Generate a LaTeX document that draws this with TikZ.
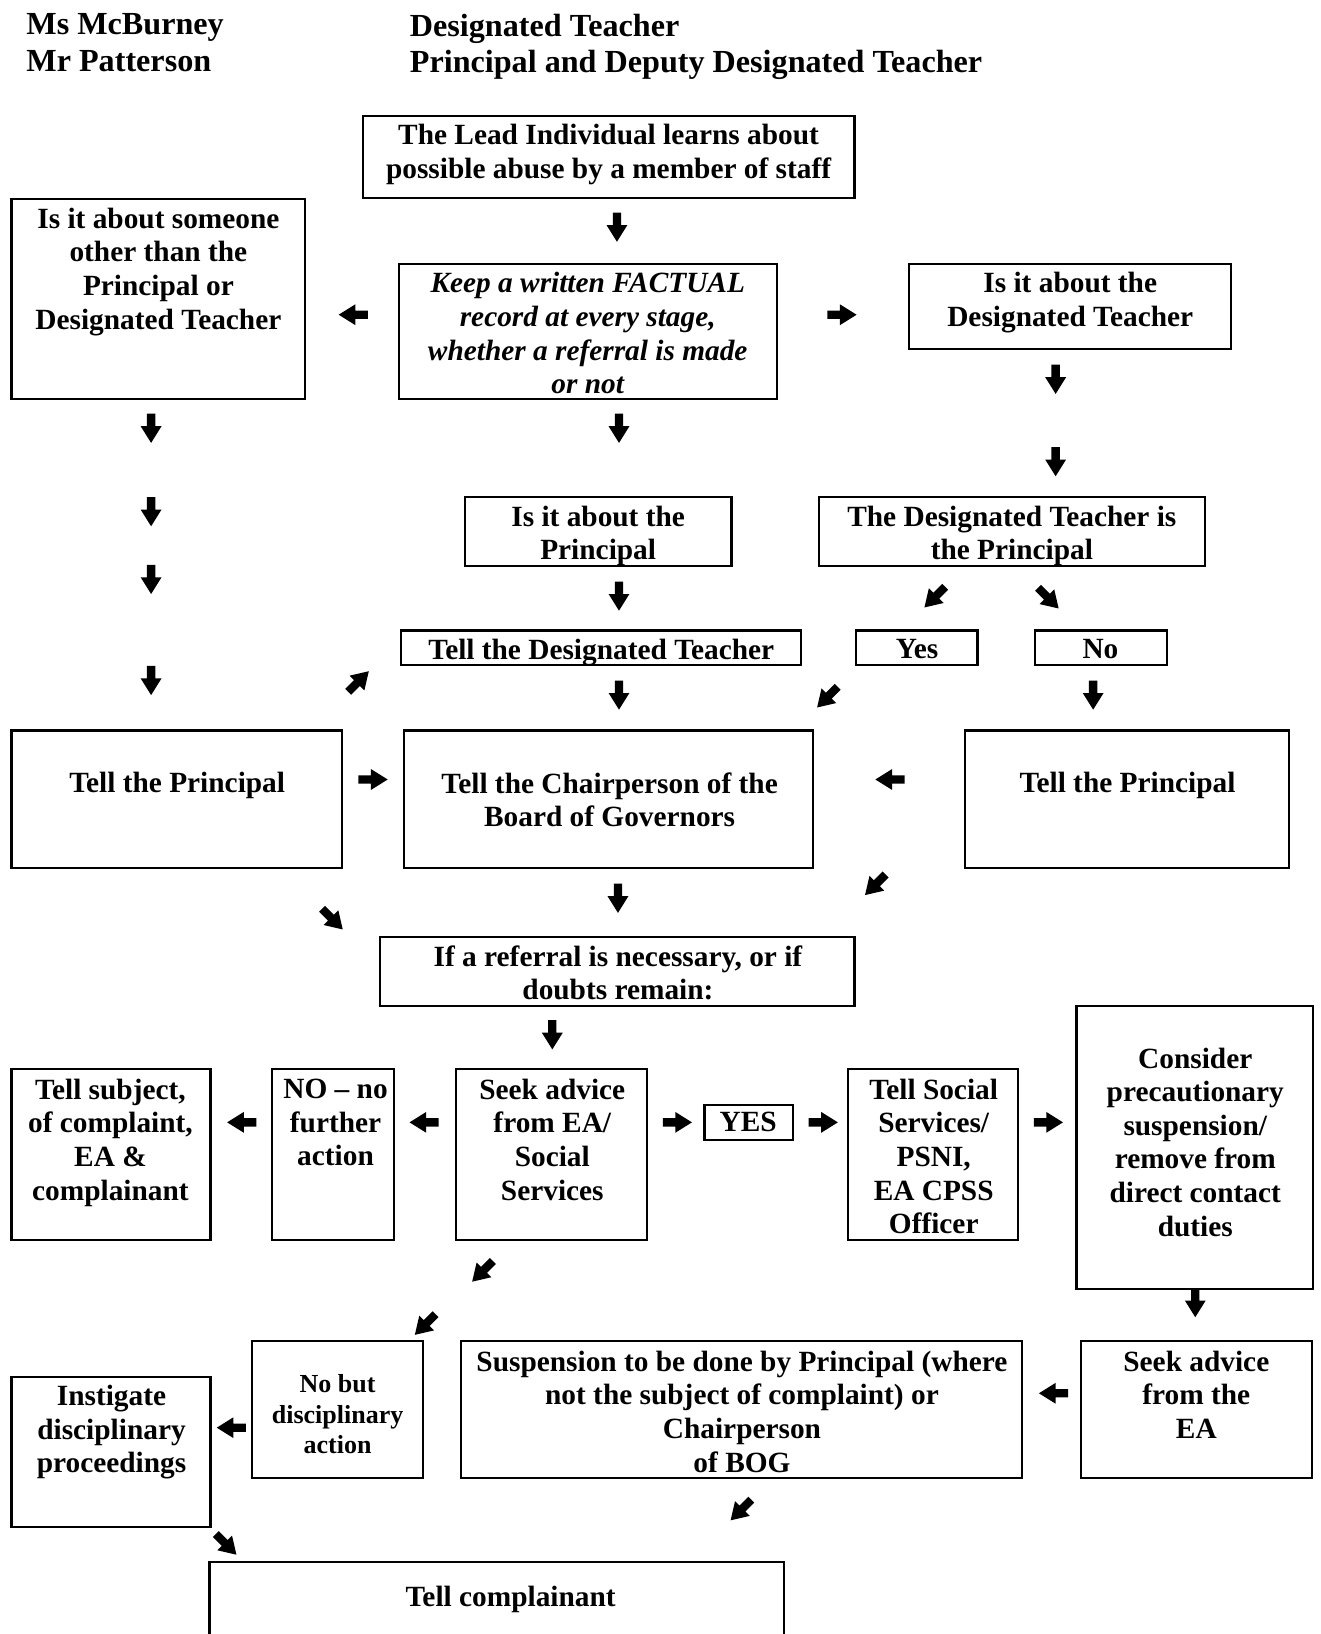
\documentclass[tikz,border=0pt]{standalone}
\usepackage{fontspec}
\setmainfont{Liberation Serif}
\usetikzlibrary{fit}

\begin{document}
\begin{tikzpicture}[x=0.020837cm, y=-0.020837cm,
  box/.style={draw, line width=1.2pt, inner sep=0pt},
  txt/.style={anchor=north, align=center, inner sep=0pt,
              font=\fontsize{16.7}{19.15}\selectfont\bfseries},
  small/.style={txt, font=\fontsize{14.8}{17.2}\selectfont\bfseries},
  hdr/.style={anchor=north west, align=left, inner sep=0pt,
              font=\fontsize{18.3}{20.75}\selectfont\bfseries},
  garrow/.pic={\fill (-4,-14) -- (4,-14) -- (4,-2) -- (10,-2) -- (0,14)
                 -- (-10,-2) -- (-4,-2) -- cycle;},
]
\useasboundingbox (0,0) rectangle (1267,1568);

% header
\node[hdr] (names) at (25,13) {Ms McBurney\\Mr Patterson};
\node[hdr] (roles) at (393,13) {Designated Teacher\\Principal and Deputy Designated Teacher};

% boxes
\node[box, fit={(348,111) (820,190)}] (lead) {};
\node[box, fit={(11,191) (293,383)}] (other) {};
\node[box, fit={(383,253) (746,383)}] (record) {};
\node[box, fit={(872,253) (1181,335)}] (isdt) {};
\node[box, fit={(446,477) (702,543)}] (ispr) {};
\node[box, fit={(786,477) (1156,543)}] (dtpr) {};
\node[box, fit={(385,605) (769,638)}] (telldt) {};
\node[box, fit={(821,605) (938,638)}] (yes) {};
\node[box, fit={(993,605) (1120,638)}] (no) {};
\node[box, fit={(11,701) (328,833)}] (prleft) {};
\node[box, fit={(388,701) (780,833)}] (chair) {};
\node[box, fit={(926,701) (1237,833)}] (prright) {};
\node[box, fit={(365,899) (820,965)}] (referral) {};
\node[box, fit={(11,1026) (202,1190)}] (subject) {};
\node[box, fit={(261,1026) (378,1190)}] (noaction) {};
\node[box, fit={(438,1026) (621,1190)}] (advice) {};
\node[box, fit={(676,1060) (761,1094)}] (yesbig) {};
\node[box, fit={(814,1026) (977,1190)}] (social) {};
\node[box, fit={(1033,965) (1260,1237)}] (consider) {};
\node[box, fit={(1037,1287) (1259,1418)}] (adviceea) {};
\node[box, fit={(442,1287) (981,1418)}] (suspend) {};
\node[box, fit={(242,1287) (406,1418)}] (nobut) {};
\node[box, fit={(11,1321) (202,1465)}] (instigate) {};
\node[box, fit={(201,1499) (752,1590)}] (complainant) {};

% texts
\node[txt] (leadT) at (584,119) {The Lead Individual learns about\\possible abuse by a member of staff};
\node[txt] (otherT) at (152,199) {Is it about someone\\other than the\\Principal or\\Designated Teacher};
\node[txt, font=\fontsize{16.7}{19.15}\selectfont\bfseries\itshape] (recordT) at (564,261)
  {Keep a written FACTUAL\\record at every stage,\\whether a referral is made\\or not};
\node[txt] (isdtT) at (1027,261) {Is it about the\\Designated Teacher};
\node[txt] (isprT) at (574,485) {Is it about the\\Principal};
\node[txt] (dtprT) at (971,485) {The Designated Teacher is\\the Principal};
\node[txt] (telldtT) at (577,613) {Tell the Designated Teacher};
\node[txt] (yesT) at (880,613) {Yes};
\node[txt] (noT) at (1056,613) {No};
\node[txt] (prleftT) at (170,741) {Tell the Principal};
\node[txt] (chairT) at (585,741) {Tell the Chairperson of the\\Board of Governors};
\node[txt] (prrightT) at (1082,741) {Tell the Principal};
\node[txt] (referralT) at (593,907) {If a referral is necessary, or if\\doubts remain:};
\node[txt] (subjectT) at (106,1035) {Tell subject,\\of complaint,\\EA \&\\complainant};
\node[txt] (noactionT) at (322,1035) {NO -- no\\further\\action};
\node[txt] (adviceT) at (530,1035) {Seek advice\\from EA/\\Social\\Services};
\node[txt] (yesbigT) at (718,1067) {YES};
\node[txt] (socialT) at (896,1035) {Tell Social\\Services/\\PSNI,\\EA CPSS\\Officer};
\node[txt] (considerT) at (1147,1005) {Consider\\precautionary\\suspension/\\remove from\\direct contact\\duties};
\node[txt] (adviceeaT) at (1148,1296) {Seek advice\\from the\\EA};
\node[txt] (suspendT) at (712,1296) {Suspension to be done by Principal (where\\not the subject of complaint) or\\Chairperson\\of BOG};
\node[small] (nobutT) at (324,1319) {No but\\disciplinary\\action};
\node[txt] (instigateT) at (107,1329) {Instigate\\disciplinary\\proceedings};
\node[txt] (complainantT) at (490,1522) {Tell complainant};

% arrow glyphs
\foreach \p in {(592,218),(145,411),(594,411),(1013,364),(1013,443),(145,491),
                (145,556),(594,572),(145,653),(594,667),(1049,667),(593,862),
                (530,993),(1147,1250)}
  \pic at \p {garrow};
\foreach \p in {(339,302),(854,748),(232,1077),(407,1077),(1011,1337),(222,1370)}
  \pic[rotate=-90] at \p {garrow};
\foreach \p in {(808,302),(358,748),(650,1077),(790,1077),(1006,1077)}
  \pic[rotate=90] at \p {garrow};
\foreach \p in {(897,573),(794,669),(840,849),(463,1220),(408,1271),(711,1449)}
  \pic[rotate=-45] at \p {garrow};
\foreach \p in {(1006,574),(319,882),(217,1482)}
  \pic[rotate=45] at \p {garrow};
\pic[rotate=135] at (344,654) {garrow};
\end{tikzpicture}
\end{document}
